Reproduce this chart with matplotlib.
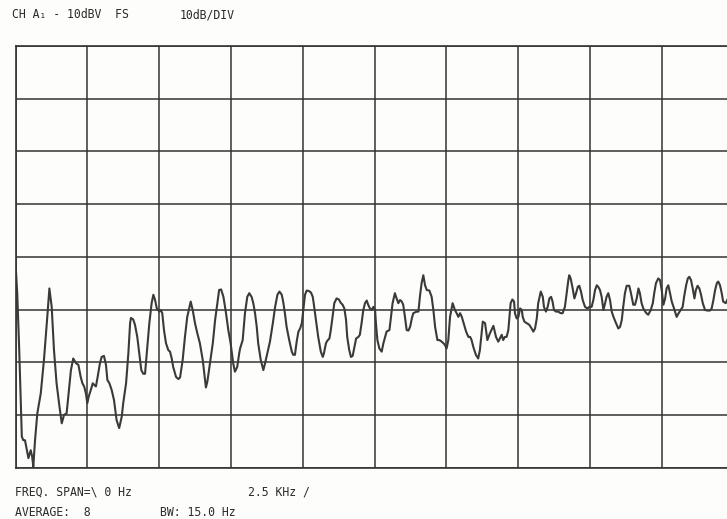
import matplotlib
matplotlib.use("Agg")
import matplotlib.pyplot as plt
import numpy as np

# --- data ---
freq_khz = [
    0.00, 0.06, 0.13, 0.22, 0.27, 0.33, 0.45, 0.53, 0.58, 0.62, 0.68, 0.76, 0.88, 0.99,
    1.09, 1.18, 1.26, 1.34, 1.43, 1.53, 1.61, 1.69, 1.78, 1.86, 1.93, 2.01, 2.11, 2.19,
    2.27, 2.33, 2.39, 2.45, 2.50, 2.55, 2.62, 2.69, 2.74, 2.80, 2.86, 2.94, 3.00, 3.08,
    3.15, 3.20, 3.27, 3.35, 3.43, 3.52, 3.61, 3.70,
    3.75, 3.85, 3.93, 3.99, 4.02, 4.10, 4.16, 4.24, 4.31, 4.38, 4.45, 4.51, 4.57, 4.66,
    4.74, 4.80, 4.86, 4.92, 5.01, 5.06, 5.11, 5.17, 5.24, 5.32, 5.38, 5.44, 5.49, 5.59,
    5.67, 5.73, 5.82, 5.90, 5.98, 6.10, 6.17, 6.25, 6.33, 6.42, 6.52, 6.60, 6.63, 6.68,
    6.77, 6.87, 6.95, 7.03, 7.09, 7.16, 7.24, 7.33, 7.41, 7.49, 7.58, 7.64, 7.72, 7.79,
    7.82, 7.91, 7.99, 8.07, 8.14, 8.22, 8.28, 8.34, 8.40, 8.45, 8.54, 8.63, 8.69, 8.77,
    8.86, 8.96, 9.04, 9.12, 9.19, 9.27, 9.32, 9.38, 9.44, 9.53, 9.62, 9.67, 9.73, 9.79,
    9.85, 9.91, 9.97, 10.02, 10.08, 10.14, 10.22, 10.29, 10.35, 10.39, 10.46, 10.54,
    10.63, 10.70, 10.74, 10.81, 10.86, 10.93, 10.97, 11.04, 11.10, 11.18, 11.26, 11.32,
    11.39, 11.45, 11.51, 11.55, 11.62, 11.68, 11.74, 11.80, 11.86, 11.94,
    11.99, 12.05, 12.11, 12.17, 12.23, 12.28, 12.34, 12.40, 12.46, 12.52, 12.55, 12.60,
    12.67, 12.75, 12.81, 12.87, 12.92, 13.02, 13.06, 13.13, 13.21, 13.27, 13.33, 13.39,
    13.45, 13.50, 13.56, 13.62, 13.68, 13.74, 13.80, 13.85, 13.97, 14.03, 14.08, 14.14,
    14.20, 14.26, 14.32, 14.41, 14.49, 14.55, 14.61, 14.69, 14.76, 14.84, 14.90, 14.95,
    15.01, 15.07, 15.13, 15.22, 15.30, 15.36, 15.42, 15.48, 15.54, 15.62, 15.69, 15.77,
    15.83, 15.88, 15.94, 16.03, 16.11, 16.17,
    16.27, 16.35, 16.43, 16.52, 16.64, 16.73, 16.81, 16.93, 16.98, 17.04, 17.10, 17.16,
    17.19, 17.24, 17.30, 17.36, 17.39, 17.45, 17.51, 17.57, 17.63, 17.66, 17.72, 17.80,
    17.89, 17.97, 18.03, 18.09, 18.15, 18.20, 18.29, 18.36, 18.40, 18.47, 18.53, 18.59,
    18.65, 18.70, 18.75, 18.82, 18.90, 18.98, 19.05, 19.13, 19.19, 19.25, 19.28, 19.33,
    19.40, 19.46, 19.52, 19.58, 19.63, 19.69, 19.75, 19.83, 19.91, 19.98, 20.06, 20.12,
    20.18, 20.24, 20.29,
    20.35, 20.41, 20.47, 20.53, 20.58, 20.64, 20.70, 20.76, 20.82, 20.91, 20.99, 21.05,
    21.11, 21.16, 21.22, 21.28, 21.37, 21.43, 21.51, 21.57, 21.63, 21.69, 21.74, 21.80,
    21.86, 21.95, 22.03, 22.12, 22.19, 22.24, 22.30, 22.38, 22.44, 22.50, 22.56, 22.62,
    22.67, 22.73, 22.79, 22.85, 22.93, 23.02, 23.09, 23.16, 23.23, 23.28, 23.35, 23.41,
    23.46, 23.52, 23.58, 23.64, 23.69, 23.75, 23.81, 23.87, 23.93, 24.01, 24.09, 24.18,
    24.24, 24.30, 24.36, 24.42, 24.47, 24.53, 24.59, 24.64, 24.73, 24.78,
]

level_dbv = [
    -51.2, -56.9, -67.7, -84.1, -84.8, -84.8, -88.2, -86.7, -87.9, -89.8, -84.8, -79.7, -75.9, -69.6,
    -62.6, -56.0, -59.5, -67.7, -74.0, -78.4, -81.6, -80.0, -79.7, -75.3, -71.5, -69.3, -70.2, -70.5,
    -72.8, -74.0, -74.6, -75.9, -77.8, -76.5, -75.3, -74.0, -74.3, -74.6, -72.8, -70.2, -69.0, -68.8,
    -70.5, -73.4, -74.0, -75.3, -77.2, -81.0, -82.5, -80.3,
    -77.8, -74.0, -68.3, -62.6, -61.6, -61.9, -62.9, -65.2, -68.3, -71.5, -72.2, -72.2, -68.3, -62.6,
    -58.8, -57.2, -58.2, -59.8, -60.4, -60.1, -60.7, -63.9, -66.4, -67.7, -68.0, -69.3, -70.9, -72.8,
    -73.2, -72.9, -69.6, -65.2, -61.4, -58.5, -60.1, -62.6, -64.5, -66.4, -69.6, -73.4, -74.8, -73.7,
    -70.2, -66.4, -62.0, -58.8, -56.3, -56.2, -57.6, -60.7, -63.9, -66.4, -70.2, -71.8, -70.9, -68.3,
    -67.4, -65.8, -60.7, -57.6, -56.9, -57.6, -58.8, -60.7, -63.3, -66.4, -69.6, -71.5, -70.2, -68.3,
    -66.1, -62.6, -59.5, -57.2, -56.6, -57.2, -58.5, -60.7, -63.3, -65.8, -68.0, -68.6, -68.6, -66.1,
    -64.2, -63.6, -62.6, -60.1, -57.2, -56.4, -56.5, -56.8, -57.6, -59.1, -62.0, -65.2,
    -68.0, -69.0, -68.3, -66.4, -65.9, -65.5, -64.2, -61.4, -58.8, -57.9, -58.1, -58.7,
    -59.1, -59.8, -62.0, -65.2, -67.7, -69.0, -68.8, -67.1, -65.5, -65.2,
    -64.8, -62.6, -60.1, -58.8, -58.3, -59.1, -59.8, -60.1, -59.5, -60.1, -62.6, -65.8,
    -67.4, -68.0, -66.4, -65.2, -64.2, -63.9, -62.0, -58.8, -56.9, -57.9, -58.8, -58.2,
    -58.5, -59.1, -61.4, -63.9, -64.0, -63.3, -61.7, -60.7, -60.4, -60.4, -57.6, -55.0,
    -53.5, -55.4, -56.3, -56.4, -57.6, -60.1, -63.3, -65.8, -65.8, -66.1, -66.4, -66.7,
    -67.4, -65.8, -61.4, -58.8, -60.1, -60.7, -61.4, -60.7, -61.4, -62.9, -64.2, -65.2,
    -65.2, -65.8, -67.1, -68.6, -69.3, -67.7,
    -62.3, -62.6, -65.8, -64.5, -63.1, -65.2, -66.1, -64.8, -65.8, -65.2, -65.2, -63.9,
    -62.0, -58.8, -58.1, -58.5, -60.7, -61.7, -61.4, -59.8, -60.1, -61.4, -62.3, -62.6,
    -62.9, -63.6, -64.2, -63.6, -61.7, -58.8, -56.6, -57.6, -59.5, -60.4, -59.5, -57.9,
    -57.6, -58.5, -60.1, -60.4, -60.4, -60.7, -60.7, -59.5, -56.9, -54.4, -53.5, -54.1,
    -56.0, -57.9, -56.9, -55.7, -55.5, -56.6, -58.2, -59.5, -59.8, -59.5, -59.5, -58.2,
    -56.3, -55.4, -55.7,
    -56.3, -57.6, -60.1, -58.8, -57.6, -56.9, -58.2, -60.4, -61.4, -62.6, -63.6, -63.3,
    -62.0, -59.5, -56.9, -55.5, -55.5, -56.9, -59.1, -59.1, -57.9, -56.0, -56.9, -58.8,
    -59.8, -60.6, -61.0, -60.1, -58.8, -56.9, -55.0, -54.1, -54.4, -56.3, -59.1, -57.9,
    -56.0, -55.4, -56.9, -58.5, -59.8, -61.4, -60.7, -60.1, -59.5, -57.6, -55.4, -54.1,
    -53.8, -54.4, -56.0, -57.9, -56.3, -55.5, -56.0, -57.2, -58.8, -60.1, -60.2, -60.2,
    -59.8, -58.2, -56.3, -55.0, -54.7, -55.4, -56.9, -58.5, -58.8, -58.2,
]

freq_ticks = np.arange(0, 25.01, 2.5)        # 2.5 kHz / div
level_ticks = np.arange(-90, -9.99, 10)      # 10 dB / div, top = -10 dBV

header_left = "CH A\u2081 - 10dBV  FS"
header_right = "10dB/DIV"
footer_span = "FREQ. SPAN=\\ 0 Hz"
footer_scale = "2.5 KHz /"
footer_avg = "AVERAGE:  8"
footer_bw = "BW: 15.0 Hz"

# --- figure ---
W, H = 727, 519
fig = plt.figure(figsize=(W / 100, H / 100), dpi=100, facecolor="#fdfdfb")
ax = fig.add_axes([15.5 / W, 1 - 467.6 / H, 718 / W, 421.6 / H])
ax.set_facecolor("#fdfdfb")

ink = "#333333"
ax.plot(freq_khz, level_dbv, color="#3a3a3a", lw=1.5, solid_joinstyle="round")

ax.set_xlim(0, 25)
ax.set_ylim(-90, -10)
ax.set_xticks(freq_ticks)
ax.set_yticks(level_ticks)
ax.tick_params(length=0, labelbottom=False, labelleft=False)
ax.grid(True, color=ink, lw=1.1)
for s in ax.spines.values():
    s.set_color(ink)
    s.set_linewidth(1.2)

tk = dict(family="DejaVu Sans Mono", fontsize=8.3, color="#2a2a2a", va="center", ha="left")
fig.text(12 / W, 1 - 15 / H, header_left, **tk)
fig.text(180 / W, 1 - 15 / H, header_right, **tk)
fig.text(15 / W, 1 - 492 / H, footer_span, **tk)
fig.text(248 / W, 1 - 492 / H, footer_scale, **tk)
fig.text(15 / W, 1 - 513 / H, footer_avg, **tk)
fig.text(160 / W, 1 - 513 / H, footer_bw, **tk)

fig.savefig("out.png", dpi=100, facecolor=fig.get_facecolor())
